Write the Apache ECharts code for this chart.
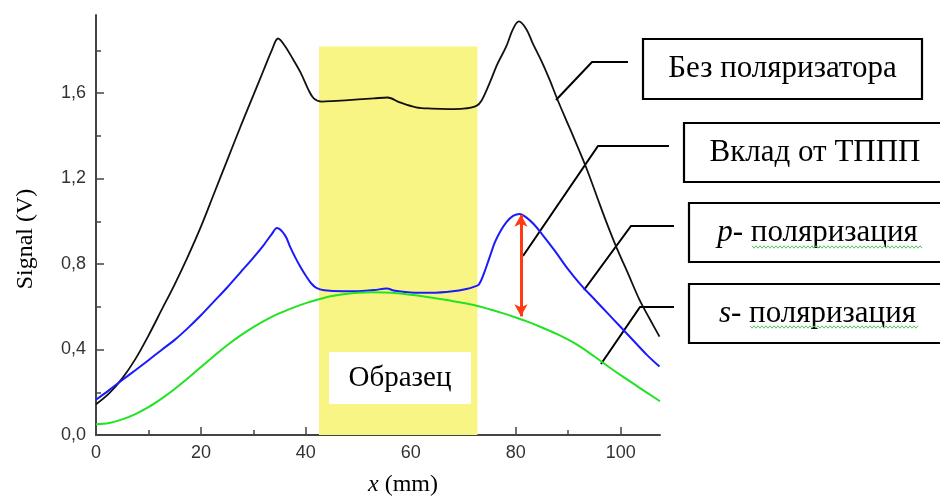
<!DOCTYPE html>
<html>
<head>
<meta charset="utf-8">
<script src="https://cdn.jsdelivr.net/npm/echarts@6/dist/echarts.min.js"></script>
<style>
  html, body { margin: 0; padding: 0; background: #fff; }
  #chart { width: 940px; height: 502px; }
</style>
</head>
<body>
<div id="chart"></div>
<script>
// Без поляризатора (black)
var xBlack = [0, 2.5, 5, 7.5, 10, 12.5, 15, 17.5, 20, 22.5, 25, 27.5, 30, 32, 33.5, 34.7, 36, 37.5, 39, 40.5, 41.5,
  43, 45, 50, 53, 55.6, 57.9, 61, 64, 67.4, 70, 72.5, 73.5, 75, 76.5, 78.2, 79.5, 80.6, 82, 83.2, 85, 86.5, 87.7,
  89.5, 91, 93.5, 96, 97.5, 99.2, 101.5, 103.6, 105.5, 107.4];
var vBlack = [0.144, 0.195, 0.265, 0.355, 0.465, 0.585, 0.705, 0.835, 0.975, 1.13, 1.285, 1.44, 1.59, 1.71, 1.8, 1.855, 1.82, 1.76, 1.695, 1.615, 1.575,
  1.56, 1.562, 1.57, 1.575, 1.579, 1.556, 1.533, 1.527, 1.525, 1.527, 1.54, 1.565, 1.645, 1.735, 1.818, 1.9, 1.935, 1.9, 1.835, 1.745, 1.66, 1.585,
  1.48, 1.395, 1.247, 1.08, 0.982, 0.878, 0.75, 0.632, 0.545, 0.46];

// p- поляризация (blue)
var xBlue = [0, 2.5, 5, 7.5, 10, 12.5, 15, 17.5, 20, 22.5, 25, 27.5, 30, 32, 33.5, 34.5, 36, 37, 38, 39, 40, 41, 42,
  43.5, 47, 50, 53, 55.4, 57, 60, 64, 68, 70.6, 72, 73, 74, 75, 76, 77, 78.2, 79.5, 80.8, 82, 83.5, 85, 87.5, 90,
  92.5, 95, 97.5, 100, 102.5, 105, 107.4];
var vBlue = [0.165, 0.21, 0.257, 0.303, 0.35, 0.398, 0.445, 0.5, 0.56, 0.625, 0.69, 0.76, 0.83, 0.89, 0.94, 0.968, 0.935, 0.88, 0.83, 0.785, 0.745, 0.71, 0.688,
  0.677, 0.672, 0.673, 0.678, 0.685, 0.675, 0.667, 0.665, 0.672, 0.683, 0.693, 0.705, 0.76, 0.83, 0.9, 0.95, 0.995, 1.025, 1.034, 1.018, 0.985, 0.94, 0.86, 0.775,
  0.7, 0.635, 0.57, 0.505, 0.44, 0.375, 0.32];

// s- поляризация (green)
var xGreen = [0, 2.5, 5, 7.5, 10, 12.5, 15, 17.5, 20, 22.5, 25, 27.5, 30, 32.5, 35, 37.5, 40, 42.5, 45, 47.5, 50, 52.5,
  55, 57.5, 60, 62.5, 65, 67.5, 70, 72.5, 75, 77.5, 80, 82.5, 85, 87.5, 90, 92.5, 95, 97.5, 100, 102.5, 105, 107.5];
var vGreen = [0.05, 0.056, 0.073, 0.098, 0.13, 0.17, 0.215, 0.265, 0.318, 0.37, 0.42, 0.465, 0.505, 0.54, 0.57, 0.595, 0.617, 0.635, 0.65, 0.66, 0.666, 0.668,
  0.667, 0.663, 0.656, 0.648, 0.639, 0.629, 0.618, 0.605, 0.588, 0.57, 0.55, 0.528, 0.503, 0.476, 0.446, 0.41, 0.367, 0.323, 0.28, 0.239, 0.198, 0.158];

var sampleZone = [42.5, 72.7];   // mm, "Образец"
var sampleTop = 1.818;
var arrowX = 81;                 // "Вклад от ТППП"
var arrowFrom = 1.03, arrowTo = 0.555;

var xMajor = [0, 20, 40, 60, 80, 100];
var xMinor = [10, 30, 50, 70, 90];
var yMajor = [0, 0.4, 0.8, 1.2, 1.6];
var yMinor = [0.2, 0.6, 1.0, 1.4, 1.8];

var labels = ['Без поляризатора', 'Вклад от ТППП', '{i|p}{n|- поляризация}', '{i|s}{n|- поляризация}'];

function pairs(xs, vs) {
  return xs.map(function (x, i) { return [x, vs[i]]; });
}

var serif = '"Liberation Serif", "DejaVu Serif", serif';
var sans = '"Liberation Sans", Arial, sans-serif';

function boxLabel(x, y, w, h, text) {
  return {
    type: 'group',
    children: [
      { type: 'rect', shape: { x: x, y: y, width: w, height: h },
        style: { fill: '#fff', stroke: '#000', lineWidth: 2.2 } },
      { type: 'text',
        style: {
          x: x + w / 2, y: y + h / 2, text: text, align: 'center', verticalAlign: 'middle',
          fontFamily: serif, fontSize: 31, fill: '#000',
          rich: {
            i: { fontFamily: serif, fontSize: 31, fontStyle: 'italic', fill: '#000' },
            n: { fontFamily: serif, fontSize: 31, fill: '#000' }
          }
        } }
    ]
  };
}

function leader(pts) {
  return { type: 'polyline', shape: { points: pts }, style: { stroke: '#000', lineWidth: 2, fill: null } };
}

function squiggle(x0, x1, y) {
  var pts = [];
  for (var x = x0, k = 0; x <= x1; x += 2, k++) pts.push([x, y + (k % 2 ? 1.2 : -1.2)]);
  return { type: 'polyline', shape: { points: pts }, style: { stroke: '#5cc05c', lineWidth: 1, fill: null } };
}

var chart = echarts.init(document.getElementById('chart'));

chart.setOption({
  animation: false,
  grid: { left: 96, right: 280, top: 15, bottom: 63 },
  xAxis: [{
    type: 'value', min: 0, max: 107.5,
    name: '{i|x}{n| (mm)}', nameLocation: 'middle', nameGap: 38,
    nameTextStyle: {
      padding: [0, 0, 0, 50],
      rich: {
        i: { fontFamily: serif, fontSize: 24, fontStyle: 'italic', color: '#000' },
        n: { fontFamily: serif, fontSize: 24, color: '#000' }
      }
    },
    axisLine: { onZero: false, lineStyle: { color: '#444', width: 2 } },
    axisTick: { inside: true, length: 8, customValues: xMajor, lineStyle: { color: '#444', width: 1.5 } },
    axisLabel: { customValues: xMajor, margin: 9, fontFamily: sans, fontSize: 18, color: '#333' },
    splitLine: { show: false }
  }, {
    type: 'value', min: 0, max: 107.5, position: 'bottom',
    axisLine: { show: false, onZero: false },
    axisTick: { inside: true, length: 5, customValues: xMinor, lineStyle: { color: '#444', width: 1.5 } },
    axisLabel: { show: false },
    splitLine: { show: false }
  }],
  yAxis: [{
    type: 'value', min: 0, max: 1.965,
    name: 'Signal (V)', nameLocation: 'middle', nameGap: 58, nameRotate: 90,
    nameTextStyle: { fontFamily: serif, fontSize: 24, color: '#000', padding: [0, 28, 0, 0] },
    axisLine: { show: true, onZero: false, lineStyle: { color: '#444', width: 2 } },
    axisTick: { show: true, inside: true, length: 8, customValues: yMajor, lineStyle: { color: '#444', width: 1.5 } },
    axisLabel: {
      customValues: yMajor, margin: 10, fontFamily: sans, fontSize: 18, color: '#333',
      formatter: function (v) { return v.toFixed(1).replace('.', ','); }
    },
    splitLine: { show: false }
  }, {
    type: 'value', min: 0, max: 1.965, position: 'left',
    axisLine: { show: false, onZero: false },
    axisTick: { show: true, inside: true, length: 5, customValues: yMinor, lineStyle: { color: '#444', width: 1.5 } },
    axisLabel: { show: false },
    splitLine: { show: false }
  }],
  series: [{
    type: 'line', data: [], z: 1,
    markArea: {
      silent: true,
      itemStyle: { color: '#f9f584' },
      data: [[{ xAxis: sampleZone[0], yAxis: 0 }, { xAxis: sampleZone[1], yAxis: sampleTop }]]
    }
  }, {
    name: 'Без поляризатора', type: 'line', z: 3, smooth: 0.35, showSymbol: false,
    data: pairs(xBlack, vBlack), lineStyle: { color: '#111', width: 1.8 }
  }, {
    name: 'p- поляризация', type: 'line', z: 3, smooth: 0.35, showSymbol: false,
    data: pairs(xBlue, vBlue), lineStyle: { color: '#1a1aff', width: 2 }
  }, {
    name: 's- поляризация', type: 'line', z: 3, smooth: 0.35, showSymbol: false,
    data: pairs(xGreen, vGreen), lineStyle: { color: '#22e322', width: 2 },
    markLine: {
      silent: true, symbol: ['arrow', 'arrow'], symbolSize: [10, 12],
      label: { show: false },
      lineStyle: { color: '#ff3a14', width: 3, type: 'solid' },
      data: [[{ coord: [arrowX, arrowFrom] }, { coord: [arrowX, arrowTo] }]]
    }
  }],
  graphic: [
    { type: 'rect', shape: { x: 329, y: 352, width: 142, height: 52 }, style: { fill: '#fff' }, z: 10 },
    { type: 'text', z: 11,
      style: { x: 400, y: 378, text: 'Образец', align: 'center', verticalAlign: 'middle',
        fontFamily: serif, fontSize: 29, fill: '#000' } },
    leader([[628, 62], [592, 62], [556, 100]]),
    leader([[669, 146], [598, 146], [523, 256]]),
    leader([[674, 226], [631, 226], [584, 290]]),
    leader([[674, 307], [640, 307], [601, 364]]),
    boxLabel(643, 39, 279, 60, labels[0]),
    boxLabel(684, 123, 262, 59, labels[1]),
    boxLabel(689, 203, 257, 59, labels[2]),
    boxLabel(689, 284, 257, 59, labels[3]),
    squiggle(752, 922, 247),
    squiggle(750, 918, 327)
  ]
});
</script>
</body>
</html>
